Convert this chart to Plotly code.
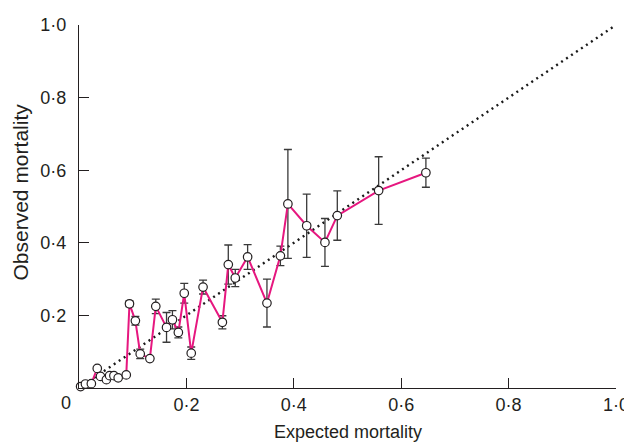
import plotly.graph_objects as go

# Data
expected = [0.003, 0.012, 0.023, 0.034, 0.040, 0.051, 0.057, 0.065, 0.073, 0.088,
            0.094, 0.105, 0.114, 0.132, 0.143, 0.163, 0.174, 0.185, 0.196, 0.209,
            0.231, 0.267, 0.278, 0.291, 0.314, 0.350, 0.375, 0.389, 0.424, 0.458,
            0.481, 0.558, 0.646]
observed = [0.004, 0.011, 0.012, 0.054, 0.032, 0.023, 0.034, 0.034, 0.028, 0.036,
            0.232, 0.185, 0.094, 0.081, 0.225, 0.167, 0.188, 0.153, 0.261, 0.096,
            0.278, 0.181, 0.340, 0.303, 0.361, 0.234, 0.364, 0.507, 0.447, 0.401,
            0.475, 0.544, 0.593]
err = [0, 0, 0, 0, 0, 0, 0, 0, 0, 0,
       0.008, 0.012, 0.013, 0, 0.020, 0.041, 0.025, 0.015, 0.027, 0.017,
       0.019, 0.018, 0.054, 0.024, 0.034, 0.066, 0.027, 0.150, 0.087, 0.066,
       0.068, 0.093, 0.040]

ref_line = [0, 1]
tick_vals = [0.2, 0.4, 0.6, 0.8, 1.0]
tick_text = ["0·2", "0·4", "0·6", "0·8", "1·0"]

TXT = "#231f20"
FONT = "Liberation Sans, Arial, Helvetica, sans-serif"

fig = go.Figure()
fig.add_trace(go.Scatter(
    x=ref_line, y=ref_line, mode="lines",
    line=dict(color="#1a1a1a", width=2.4, dash="2px,4px"),
    hoverinfo="skip", showlegend=False, cliponaxis=False,
))
fig.add_trace(go.Scatter(
    x=expected, y=observed, mode="lines+markers",
    line=dict(color="#e6177f", width=2),
    marker=dict(size=8.5, color="white", line=dict(color="#231f20", width=1.2)),
    error_y=dict(type="data", array=err, symmetric=True, color="#3a3a3a",
                 thickness=1.3, width=4),
    showlegend=False, cliponaxis=False,
))

axis_common = dict(
    range=[0, 1], showgrid=False, zeroline=False, automargin=False,
    showline=True, linecolor=TXT, linewidth=1.3,
    ticks="inside", ticklen=10, tickwidth=1.3, tickcolor=TXT,
    tickvals=tick_vals, ticktext=tick_text,
    tickfont=dict(family=FONT, size=18, color=TXT),
)
fig.update_xaxes(**axis_common)
fig.update_yaxes(**axis_common, ticklabelstandoff=8)

# origin label and axis titles
fig.add_annotation(x=0, y=0, xref="x", yref="y", text="0", showarrow=False,
                   xshift=-13, yshift=-15,
                   font=dict(family=FONT, size=18, color=TXT))
fig.add_annotation(x=0.5, y=0, xref="paper", yref="paper",
                   text="Expected mortality", showarrow=False,
                   yshift=-44, yanchor="middle",
                   font=dict(family=FONT, size=18, color=TXT))
fig.add_annotation(x=0, y=0.5, xref="paper", yref="paper",
                   text="Observed mortality", showarrow=False, textangle=-90,
                   xshift=-59, yshift=14, xanchor="center", yanchor="middle",
                   font=dict(family=FONT, size=21, color=TXT))

# the page body adds an 8px offset, so the figure is sized to fill the rest
fig.update_layout(
    width=624, height=437,
    margin=dict(l=71, r=16, t=17, b=57),
    paper_bgcolor="white", plot_bgcolor="white",
)

fig.write_html("out.html")
